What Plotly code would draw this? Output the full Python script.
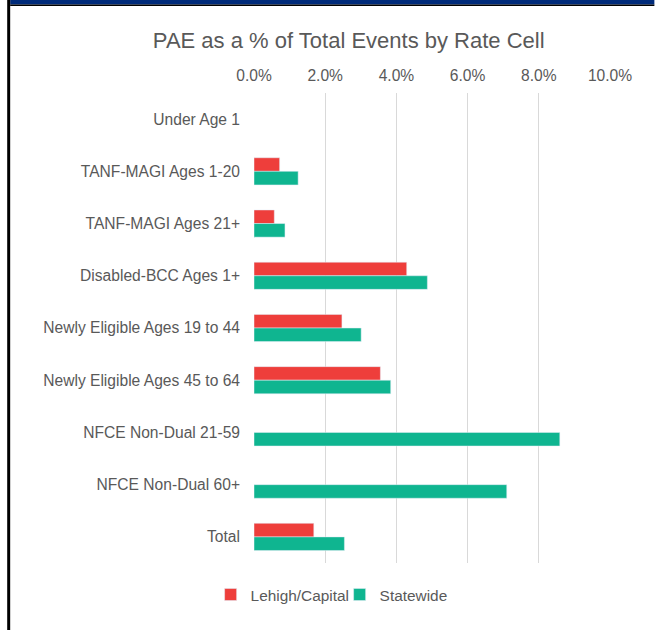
import plotly.graph_objects as go

categories = ["Under Age 1", "TANF-MAGI Ages 1-20", "TANF-MAGI Ages 21+",
              "Disabled-BCC Ages 1+", "Newly Eligible Ages 19 to 44",
              "Newly Eligible Ages 45 to 64", "NFCE Non-Dual 21-59",
              "NFCE Non-Dual 60+", "Total"]
lehigh = [None, 0.72, 0.57, 4.29, 2.47, 3.55, None, None, 1.68]
statewide = [None, 1.24, 0.87, 4.87, 3.01, 3.84, 8.59, 7.10, 2.54]
x_ticks = [0, 2, 4, 6, 8, 10]
x_tick_labels = ["0.0%", "2.0%", "4.0%", "6.0%", "8.0%", "10.0%"]

W, H = 655, 630
L, R, T, B = 253.5, 44.5, 93, 67
pw, ph = W - L - R, H - T - B

def px(x):
    return (x - L) / pw

def py(y):
    return 1 - (y - T) / ph

font = "Liberation Sans, Arial, sans-serif"
grey = "#595959"
fs = 15.6

fig = go.Figure()
fig.add_trace(go.Bar(y=categories, x=lehigh, name="Lehigh/Capital",
                     orientation="h", marker=dict(color="#EE3E3B")))
fig.add_trace(go.Bar(y=categories, x=statewide, name="Statewide",
                     orientation="h", marker=dict(color="#0FB590")))

fig.update_layout(
    width=W, height=H,
    margin=dict(l=L, r=R, t=T, b=B, autoexpand=False),
    paper_bgcolor="white", plot_bgcolor="white",
    barmode="group", bargap=0.48, bargroupgap=0,
    font=dict(family=font, color=grey, size=fs),
    title=dict(text="PAE as a % of Total Events by Rate Cell",
               x=px(348.5), xref="paper", xanchor="center",
               y=1 - 40 / H, yanchor="middle",
               font=dict(size=22, color=grey, family=font)),
    xaxis=dict(side="top", range=[0, 10], tickvals=x_ticks,
               ticktext=x_tick_labels, showgrid=True, gridcolor="#D9D9D9",
               gridwidth=1, zeroline=False, showline=False, ticks="",
               ticklabelstandoff=8,
               tickfont=dict(size=fs, color=grey)),
    yaxis=dict(autorange="reversed", showgrid=False, zeroline=False,
               showline=False, ticks="", ticklabelstandoff=13,
               tickfont=dict(size=fs, color=grey)),
    legend=dict(orientation="h", x=px(210), xanchor="left",
                y=py(595), yanchor="middle",
                font=dict(size=15.4, color=grey), itemwidth=30,
                entrywidth=84, traceorder="normal"),
    shapes=[
        dict(type="rect", xref="paper", yref="paper",
             x0=px(9), x1=px(W), y0=py(0), y1=py(4.5),
             fillcolor="#002B7A", line=dict(width=0), layer="above"),
        dict(type="rect", xref="paper", yref="paper",
             x0=px(9), x1=px(W), y0=py(4.5), y1=py(6),
             fillcolor="#000000", line=dict(width=0), layer="above"),
        dict(type="rect", xref="paper", yref="paper",
             x0=px(6), x1=px(9), y0=py(0), y1=py(H),
             fillcolor="#000000", line=dict(width=0), layer="above"),
    ],
)

fig.write_html("out.html",
               config={"displayModeBar": False},
               post_script=("document.body.style.margin='0';"
                            "document.body.style.padding='0';"
                            "document.body.style.overflow='hidden';"
                            "document.documentElement.style.overflow='hidden';"))
